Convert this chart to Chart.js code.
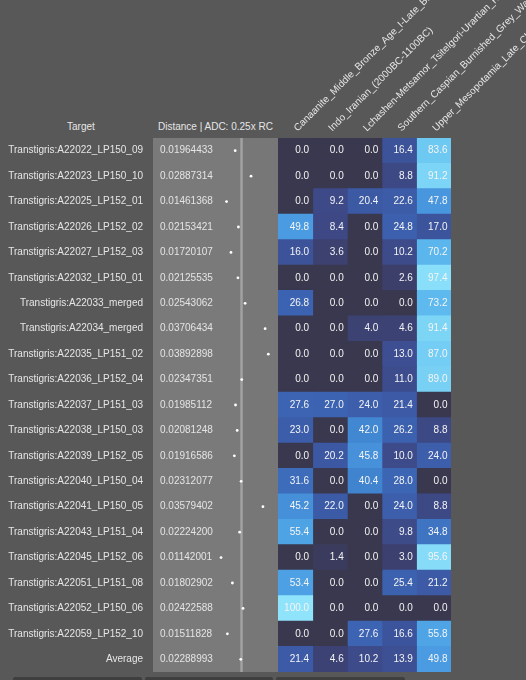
<!DOCTYPE html>
<html>
<head>
<meta charset="utf-8">
<script src="https://cdn.jsdelivr.net/npm/chart.js@4"></script>
<style>
  html, body { margin:0; padding:0; background:#585858; width:526px; height:680px; overflow:hidden; }
  body { position:relative; font-family:"Liberation Sans", Arial, sans-serif; }
  canvas { position:absolute; }
  .hdr { position:absolute; font-size:10px; line-height:12px; color:#e6e6e6; white-space:nowrap; }
  .bar { position:absolute; top:677px; height:6px; background:#3f3f3f; border-radius:2px; }
</style>
</head>
<body>
<div class="hdr" style="left:67px; top:121px;">Target</div>
<div class="hdr" style="left:158px; top:121px;">Distance | ADC: 0.25x RC</div>
<canvas id="dist" width="278" height="672" style="left:0; top:0;"></canvas>
<canvas id="heat" width="248" height="672" style="left:278px; top:0;"></canvas>
<div class="bar" style="left:13px; width:129px;"></div>
<div class="bar" style="left:145px; width:128px;"></div>
<div class="bar" style="left:276px; width:129px;"></div>
<script>
const targets = [
  "Transtigris:A22022_LP150_09","Transtigris:A22023_LP150_10","Transtigris:A22025_LP152_01",
  "Transtigris:A22026_LP152_02","Transtigris:A22027_LP152_03","Transtigris:A22032_LP150_01",
  "Transtigris:A22033_merged","Transtigris:A22034_merged","Transtigris:A22035_LP151_02",
  "Transtigris:A22036_LP152_04","Transtigris:A22037_LP151_03","Transtigris:A22038_LP150_03",
  "Transtigris:A22039_LP152_05","Transtigris:A22040_LP150_04","Transtigris:A22041_LP150_05",
  "Transtigris:A22043_LP151_04","Transtigris:A22045_LP152_06","Transtigris:A22051_LP151_08",
  "Transtigris:A22052_LP150_06","Transtigris:A22059_LP152_10","Average"
];
const distances = [0.01964433,0.02887314,0.01461368,0.02153421,0.01720107,0.02125535,0.02543062,
  0.03706434,0.03892898,0.02347351,0.01985112,0.02081248,0.01916586,0.02312077,0.03579402,
  0.02224200,0.01142001,0.01802902,0.02422588,0.01511828,0.02288993];
const sources = [
  "Canaanite_Middle_Bronze_Age_I-Late_Bronze_Age",
  "Indo_Iranian_(2000BC-1100BC)",
  "Lchashen-Metsamor_Tsitelgori-Urartian_Kingdom",
  "Southern_Caspian_Burnished_Grey_Ware",
  "Upper_Mesopotamia_Late_Chalcolithic"
];
const canaanite       = [0.0,0.0,0.0,49.8,16.0,0.0,26.8,0.0,0.0,0.0,27.6,23.0,0.0,31.6,45.2,55.4,0.0,53.4,100.0,0.0,21.4];
const indoIranian     = [0.0,0.0,9.2,8.4,3.6,0.0,0.0,0.0,0.0,0.0,27.0,0.0,20.2,0.0,22.0,0.0,1.4,0.0,0.0,0.0,4.6];
const lchashen        = [0.0,0.0,20.4,0.0,0.0,0.0,0.0,4.0,0.0,0.0,24.0,42.0,45.8,40.4,0.0,0.0,0.0,0.0,0.0,27.6,10.2];
const southernCaspian = [16.4,8.8,22.6,24.8,10.2,2.6,0.0,4.6,13.0,11.0,21.4,26.2,10.0,28.0,24.0,9.8,3.0,25.4,0.0,16.6,13.9];
const upperMeso       = [83.6,91.2,47.8,17.0,70.2,97.4,73.2,91.4,87.0,89.0,0.0,8.8,24.0,0.0,8.8,34.8,95.6,21.2,0.0,55.8,49.8];
const columns = [canaanite, indoIranian, lchashen, southernCaspian, upperMeso];

const FONT = '"Liberation Sans", Arial, sans-serif';
Chart.defaults.font.family = FONT;
Chart.defaults.font.size = 10;
Chart.defaults.color = '#e6e6e6';

const stops = [[0,[58,56,78]],[3,[60,64,110]],[10,[61,75,138]],[20,[60,88,163]],[30,[60,104,183]],
  [40,[64,130,206]],[50,[74,156,226]],[70,[90,182,237]],[85,[111,202,243]],[100,[143,227,250]]];
function colorFor(v){
  for (let i=1;i<stops.length;i++){
    if (v <= stops[i][0]){
      const [a,ca]=stops[i-1],[b,cb]=stops[i];
      const t=(v-a)/(b-a);
      const c=ca.map((x,k)=>Math.round(x+(cb[k]-x)*t));
      return `rgb(${c[0]},${c[1]},${c[2]})`;
    }
  }
  const c=stops[stops.length-1][1]; return `rgb(${c[0]},${c[1]},${c[2]})`;
}
const avgDistance = distances[distances.length-1];

// ---------- Distance column ----------
const distPanel = {
  id:'distPanel',
  beforeDatasetsDraw(chart){
    const {ctx, chartArea:a} = chart;
    const xs = chart.scales.x;
    const lx = xs.getPixelForValue(avgDistance);
    ctx.save();
    ctx.fillStyle = '#7a7a7a';
    ctx.fillRect(a.left, a.top, lx - a.left, a.bottom - a.top);
    ctx.fillStyle = '#777777';
    ctx.fillRect(lx, a.top, a.right - lx, a.bottom - a.top);
    ctx.fillStyle = '#a2a2a2';
    ctx.fillRect(lx - 0.5, a.top, 2.5, a.bottom - a.top);
    ctx.restore();
  },
  afterDatasetsDraw(chart){
    const {ctx, chartArea:a} = chart;
    const ys = chart.scales.y;
    ctx.save();
    ctx.font = '10px ' + FONT;
    ctx.fillStyle = '#e4e4e4';
    ctx.textAlign = 'left';
    ctx.textBaseline = 'middle';
    distances.forEach((d,i)=>{
      ctx.fillText(d.toFixed(8), a.left + 7, ys.getPixelForValue(i));
    });
    ctx.restore();
  }
};
new Chart(document.getElementById('dist'), {
  type:'scatter',
  data:{ datasets:[{
    data: distances.map((d,i)=>({x:d, y:targets[i]})),
    pointRadius:1.4, pointHoverRadius:1.4, backgroundColor:'#ffffff', borderWidth:0
  }]},
  options:{
    responsive:false, animation:false,
    layout:{ autoPadding:false, padding:{ top:138, left:0, right:0, bottom:0 } },
    plugins:{ legend:{display:false}, tooltip:{enabled:false} },
    scales:{
      x:{ type:'linear', min:-0.02816, max:0.04456, display:false },
      y:{ type:'category', labels:targets, offset:true,
          grid:{display:false, drawTicks:false}, border:{display:false},
          ticks:{ padding:10, color:'#e6e6e6', autoSkip:false, font:{size:10} },
          afterFit(s){ s.width = 153; s.paddingTop = 0; s.paddingBottom = 0; } }
    }
  },
  plugins:[distPanel]
});

// ---------- Heatmap ----------
const cellText = {
  id:'cellText',
  afterDatasetsDraw(chart){
    const {ctx} = chart;
    ctx.save();
    ctx.font = '10px ' + FONT;
    ctx.fillStyle = '#f4f4f4';
    ctx.textAlign = 'right';
    ctx.textBaseline = 'middle';
    columns.forEach((col,c)=>{
      const meta = chart.getDatasetMeta(c);
      meta.data.forEach((el,r)=>{
        ctx.fillText(col[r].toFixed(1), el.x - 3.5, el.y);
      });
    });
    ctx.restore();
  }
};
new Chart(document.getElementById('heat'), {
  type:'bar',
  data:{
    labels: targets,
    datasets: columns.map((col,c)=>({
      label: sources[c],
      data: col.map(()=>[c, c+1]),
      backgroundColor: col.map(colorFor),
      borderWidth:0, barPercentage:1, categoryPercentage:1, grouped:false, inflateAmount:0.5
    }))
  },
  options:{
    indexAxis:'y', responsive:false, animation:false,
    layout:{ autoPadding:false, padding:{ top:0, left:0, right:75, bottom:0 } },
    plugins:{ legend:{display:false}, tooltip:{enabled:false} },
    scales:{
      x:{ type:'linear', min:0, max:5, display:false },
      x2:{ type:'category', labels:sources, position:'top', offset:true, axis:'x',
           grid:{display:false, drawTicks:false}, border:{display:false},
           ticks:{ color:'#e6e6e6', autoSkip:false, minRotation:45, maxRotation:45, padding:4, labelOffset:9, font:{size:10} },
           afterFit(s){ s.height = 138; s.paddingLeft = 0; s.paddingRight = 0; } },
      y:{ type:'category', offset:true, display:false }
    }
  },
  plugins:[cellText]
});
</script>
</body>
</html>
